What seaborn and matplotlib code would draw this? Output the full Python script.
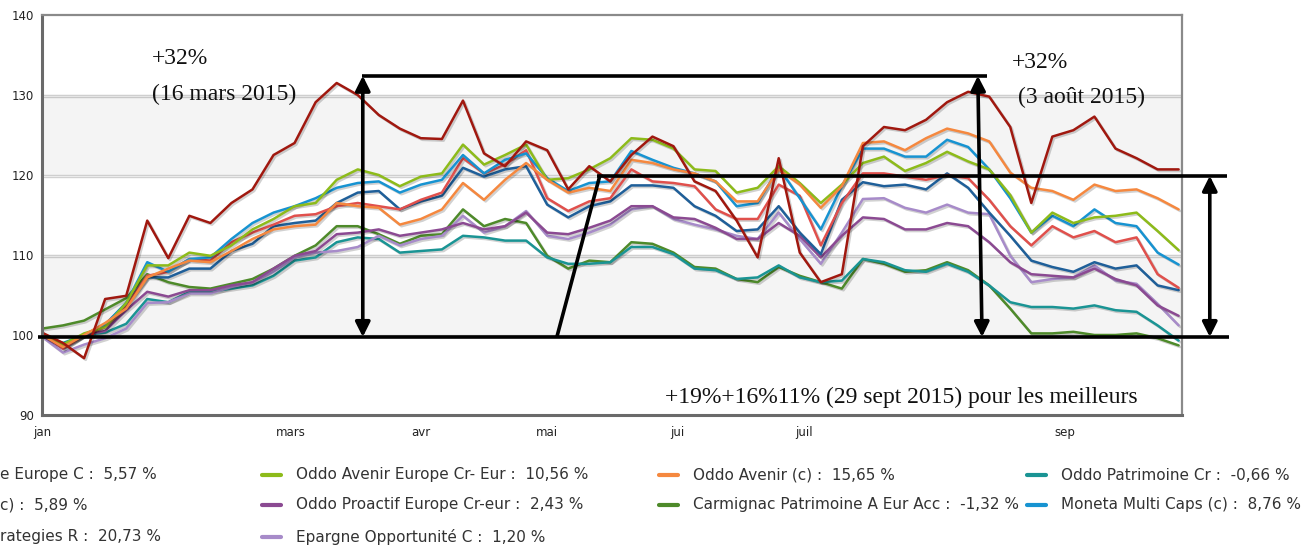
import pandas as pd
import matplotlib
matplotlib.use('Agg')
import matplotlib.pyplot as plt
import matplotlib.dates as mdates
import matplotlib.patheffects as pe
from matplotlib.lines import Line2D
import seaborn as sns

# sample days (days after 1 Jan 2015), one reading every 5 days
days = list(range(0, 271, 5))

strategies_r = [100.3, 99.0, 97.1, 104.5, 104.9, 114.3, 109.6, 114.9, 114.0, 116.5, 118.2, 122.5, 124.0, 129.1,
                131.5, 130.0, 127.5, 125.8, 124.6, 124.5, 129.3, 122.7, 121.1, 124.2, 123.1, 118.2, 121.1, 119.2,
                122.5, 124.8, 123.6, 119.2, 118.0, 114.3, 109.7, 122.1, 110.3, 106.6, 107.6, 123.6, 126.0,
                125.6, 126.9, 129.1, 130.4, 129.8, 126.0, 116.5, 124.8, 125.6, 127.3, 123.3, 122.1, 120.7, 120.7]
oddo_avenir = [100.0, 98.5, 100.0, 101.5, 103.3, 107.2, 108.3, 109.3, 109.1, 110.5, 112.0, 113.2, 113.6, 113.8,
               116.5, 116.1, 115.9, 113.8, 114.5, 115.7, 119.0, 116.9, 119.4, 121.5, 119.4, 117.8, 118.4, 118.0,
               121.9, 121.5, 120.7, 120.2, 119.2, 116.7, 116.7, 120.7, 118.8, 115.9, 118.6, 124.0, 124.2,
               123.1, 124.6, 125.8, 125.2, 124.2, 120.3, 118.4, 118.0, 116.9, 118.8, 118.0, 118.2, 117.1, 115.7]
avenir_europe = [100.0, 98.8, 100.2, 101.0, 104.0, 108.7, 108.7, 110.3, 109.9, 111.2, 113.2, 114.5, 116.1, 116.5,
                 119.4, 120.7, 120.0, 118.6, 119.8, 120.2, 123.8, 121.3, 122.5, 123.8, 119.4, 119.6, 120.7, 122.1,
                 124.6, 124.4, 123.3, 120.7, 120.5, 117.8, 118.4, 121.1, 119.0, 116.5, 118.8, 121.5, 122.3,
                 120.5, 121.5, 122.9, 121.7, 120.7, 117.5, 112.8, 115.3, 114.0, 114.7, 114.9, 115.3, 113.0, 110.6]
moneta = [100.2, 98.6, 100.0, 101.3, 104.0, 109.1, 107.9, 109.5, 109.7, 112.0, 114.0, 115.3, 116.1, 117.1,
          118.4, 119.0, 119.2, 117.8, 118.8, 119.4, 122.5, 120.2, 121.9, 122.7, 119.6, 118.0, 119.0, 119.2,
          123.0, 121.9, 120.9, 120.2, 119.2, 116.1, 116.5, 120.9, 117.1, 113.2, 118.6, 123.3, 123.3,
          122.3, 122.3, 124.4, 123.5, 120.7, 117.1, 112.8, 114.9, 113.6, 115.7, 114.0, 113.6, 110.3, 108.8]
fund_c = [100.3, 98.3, 100.0, 101.0, 103.6, 107.4, 107.9, 109.5, 109.3, 111.6, 112.8, 113.8, 114.9, 115.1,
          116.1, 116.5, 116.1, 115.7, 116.9, 117.8, 122.1, 120.2, 121.3, 123.1, 117.1, 115.5, 116.7, 117.1,
          120.7, 119.2, 119.0, 118.6, 115.7, 114.5, 114.5, 118.8, 117.4, 111.2, 116.5, 120.2, 120.2,
          119.8, 119.4, 120.0, 119.6, 116.9, 113.6, 111.2, 113.6, 112.2, 113.0, 111.6, 112.2, 107.6, 105.9]
europe_c = [100.0, 98.6, 100.0, 101.3, 104.0, 107.2, 107.2, 108.3, 108.3, 110.5, 111.4, 113.6, 114.0, 114.3,
            116.5, 117.8, 118.0, 115.7, 116.7, 117.4, 120.9, 119.8, 120.7, 121.1, 116.3, 114.7, 116.1, 116.7,
            118.7, 118.7, 118.4, 116.1, 114.9, 113.0, 113.2, 116.1, 112.8, 110.1, 116.9, 119.1, 118.6,
            118.8, 118.2, 120.2, 118.4, 115.3, 112.4, 109.3, 108.5, 107.9, 109.1, 108.3, 108.7, 106.2, 105.6]
proactif = [100.0, 98.3, 100.0, 100.5, 103.1, 105.4, 104.8, 105.6, 105.6, 106.2, 106.6, 108.3, 109.9, 110.5,
            112.6, 112.8, 113.2, 112.4, 112.8, 113.2, 114.0, 113.2, 113.6, 115.3, 112.8, 112.6, 113.4, 114.3,
            116.1, 116.1, 114.7, 114.5, 113.4, 112.0, 112.0, 114.0, 112.4, 109.7, 112.4, 114.7, 114.5,
            113.2, 113.2, 114.0, 113.6, 111.6, 109.1, 107.6, 107.4, 107.2, 108.3, 107.0, 106.2, 103.7, 102.4]
epargne = [99.8, 97.8, 98.8, 99.6, 100.8, 104.0, 104.1, 105.2, 105.2, 106.0, 106.6, 107.9, 109.7, 110.3,
           110.5, 111.0, 112.4, 111.2, 112.0, 112.4, 114.9, 112.8, 113.6, 115.5, 112.4, 112.0, 112.8, 113.8,
           115.7, 116.1, 114.5, 113.8, 113.2, 112.4, 112.0, 115.3, 112.0, 108.9, 112.8, 117.0, 117.1,
           115.9, 115.3, 116.3, 115.3, 115.1, 109.9, 106.6, 107.0, 107.2, 108.7, 106.8, 106.4, 103.9, 101.2]
patrimoine = [100.0, 99.0, 100.0, 100.3, 101.4, 104.5, 104.1, 105.4, 105.4, 105.8, 106.2, 107.4, 109.3, 109.7,
              111.6, 112.2, 112.0, 110.3, 110.5, 110.7, 112.4, 112.2, 111.8, 111.8, 109.7, 108.9, 108.9, 109.1,
              111.0, 111.0, 110.1, 108.3, 108.1, 107.0, 107.2, 108.7, 107.2, 106.6, 106.8, 109.5, 109.1,
              108.1, 107.9, 108.9, 107.9, 106.2, 104.1, 103.5, 103.5, 103.3, 103.7, 103.1, 102.9, 101.2, 99.3]
carmignac = [100.8, 101.2, 101.8, 103.2, 104.6, 107.6, 106.6, 106.0, 105.8, 106.4, 107.0, 108.3, 109.9, 111.2,
             113.6, 113.6, 112.6, 111.4, 112.4, 112.6, 115.7, 113.6, 114.5, 114.0, 109.9, 108.3, 109.3, 109.1,
             111.6, 111.4, 110.3, 108.5, 108.3, 107.0, 106.6, 108.5, 107.4, 106.6, 105.8, 109.5, 108.9,
             107.9, 108.1, 109.1, 108.1, 106.2, 103.3, 100.2, 100.2, 100.4, 100.0, 100.0, 100.2, 99.6, 98.7]

series = {
    'Carmignac': (carmignac, '#4e8a2a'),
    'Patrimoine': (patrimoine, '#1a9494'),
    'Epargne': (epargne, '#a78bc9'),
    'Proactif': (proactif, '#8b4a92'),
    'EuropeC': (europe_c, '#1f5f99'),
    'FundC': (fund_c, '#e0504c'),
    'Moneta': (moneta, '#1793d1'),
    'AvenirEurope': (avenir_europe, '#8dbb1a'),
    'Avenir': (oddo_avenir, '#f5883f'),
    'Strategies': (strategies_r, '#a0180f'),
}

start = pd.Timestamp('2015-01-01')
dates = start + pd.to_timedelta(days, unit='D')
rows = []
for name, (vals, _) in series.items():
    for d, v in zip(dates, vals):
        rows.append({'date': d, 'value': v, 'fund': name})
df = pd.DataFrame(rows)
palette = {k: c for k, (_, c) in series.items()}

month_ticks = pd.to_datetime(['2015-01-01', '2015-03-01', '2015-04-01', '2015-05-01',
                              '2015-06-01', '2015-07-01', '2015-09-01'])
month_labels = ['jan', 'mars', 'avr', 'mai', 'jui', 'juil', 'sep']

legend_rows = [
    ('e Europe C :  5,57 %', None, 0, 0),
    ('c) :  5,89 %', None, 0, 1),
    ('rategies R :  20,73 %', None, 0, 2),
    ('Oddo Avenir Europe Cr- Eur :  10,56 %', '#8dbb1a', 1, 0),
    ('Oddo Proactif Europe Cr-eur :  2,43 %', '#8b4a92', 1, 1),
    ('Epargne Opportunité C :  1,20 %', '#a78bc9', 1, 2),
    ('Oddo Avenir (c) :  15,65 %', '#f5883f', 2, 0),
    ('Carmignac Patrimoine A Eur Acc :  -1,32 %', '#4e8a2a', 2, 1),
    ('Oddo Patrimoine Cr :  -0,66 %', '#1a9494', 3, 0),
    ('Moneta Multi Caps (c) :  8,76 %', '#1793d1', 3, 1),
]

sns.set_style('white')
plt.rcParams['font.family'] = ['DejaVu Sans']

W, H = 1307, 547
fig = plt.figure(figsize=(W / 100, H / 100), dpi=100)
ax = fig.add_axes([42 / W, 1 - 415 / H, 1140 / W, 400 / H])


def px(x, y):
    return x / W, 1 - y / H


def day(n):
    return mdates.date2num(start + pd.Timedelta(days=n))


# alternating bands + grid
ax.axhspan(100, 110, color='#f4f4f4', zorder=0)
ax.axhspan(120, 130, color='#f4f4f4', zorder=0)
for yv in range(100, 140, 10):
    ax.axhline(yv, color='#cfcfcf', lw=1, zorder=0.5)

sns.lineplot(data=df, x='date', y='value', hue='fund', palette=palette,
             hue_order=list(series.keys()), legend=False, lw=1.8, ax=ax)
for ln in ax.lines:
    ln.set_path_effects([pe.SimpleLineShadow(offset=(1.2, -1.2), alpha=0.18), pe.Normal()])

ax.set_xlim(day(0), day(270.8))
ax.set_ylim(90, 140)
ax.set_yticks(range(90, 141, 10))
ax.set_xticks(mdates.date2num(month_ticks))
ax.set_xticklabels(month_labels)
ax.set_xlabel('')
ax.set_ylabel('')
ax.tick_params(axis='both', length=0, labelsize=8.5, colors='#222222')
ax.tick_params(axis='x', pad=8)
ax.tick_params(axis='y', pad=6)
for side in ['left', 'bottom']:
    ax.spines[side].set_color('#6a6a6a')
    ax.spines[side].set_linewidth(2.2)
for side in ['top', 'right']:
    ax.spines[side].set_color('#8a8a8a')
    ax.spines[side].set_linewidth(1.6)

# black overlay lines and arrows
k = dict(color='black', lw=2.6, clip_on=False, solid_capstyle='butt', zorder=5)
ax.plot([day(-1), day(282)], [99.75, 99.75], **k)
ax.plot([day(131.8), day(281.5)], [119.9, 119.9], **k)
ax.plot([day(76), day(224.5)], [132.4, 132.4], **k)
ax.plot([day(122.3), day(132.5)], [99.75, 119.9], **k)
arr = dict(arrowstyle='<|-|>', color='black', lw=2.6, mutation_scale=22, shrinkA=0, shrinkB=0)
ax.annotate('', xy=(day(76.2), 132.4), xytext=(day(76.2), 99.75), arrowprops=arr,
            annotation_clip=False, zorder=6)
ax.annotate('', xy=(day(222.3), 132.4), xytext=(day(223.3), 99.75), arrowprops=arr,
            annotation_clip=False, zorder=6)
ax.annotate('', xy=(day(277.4), 119.9), xytext=(day(277.4), 99.75), arrowprops=arr,
            annotation_clip=False, zorder=6)

serif = dict(family=['Liberation Serif', 'DejaVu Serif'], fontsize=17, color='#111111')
fig.text(*px(152, 64), '+32%', **serif)
fig.text(*px(152, 100), '(16 mars 2015)', **serif)
fig.text(*px(1012, 68), '+32%', **serif)
fig.text(*px(1018, 103), '(3 août 2015)', **serif)
fig.text(*px(665, 403), '+19%+16%11% (29 sept 2015) pour les meilleurs', **serif)

# legend below the chart
col_x = [0, 262, 659, 1027]
row_y = [475, 505, 537]
for text, color, c, r in legend_rows:
    x0, y0 = col_x[c], row_y[r]
    if color is not None:
        fig.add_artist(Line2D([x0 / W, (x0 + 19) / W], [1 - y0 / H, 1 - y0 / H],
                              color=color, lw=3, transform=fig.transFigure))
        tx = x0 + 34
    else:
        tx = 0
    fig.text(tx / W, 1 - y0 / H, text, fontsize=11, color='#333333', va='center')

fig.savefig('out.png', dpi=100)
